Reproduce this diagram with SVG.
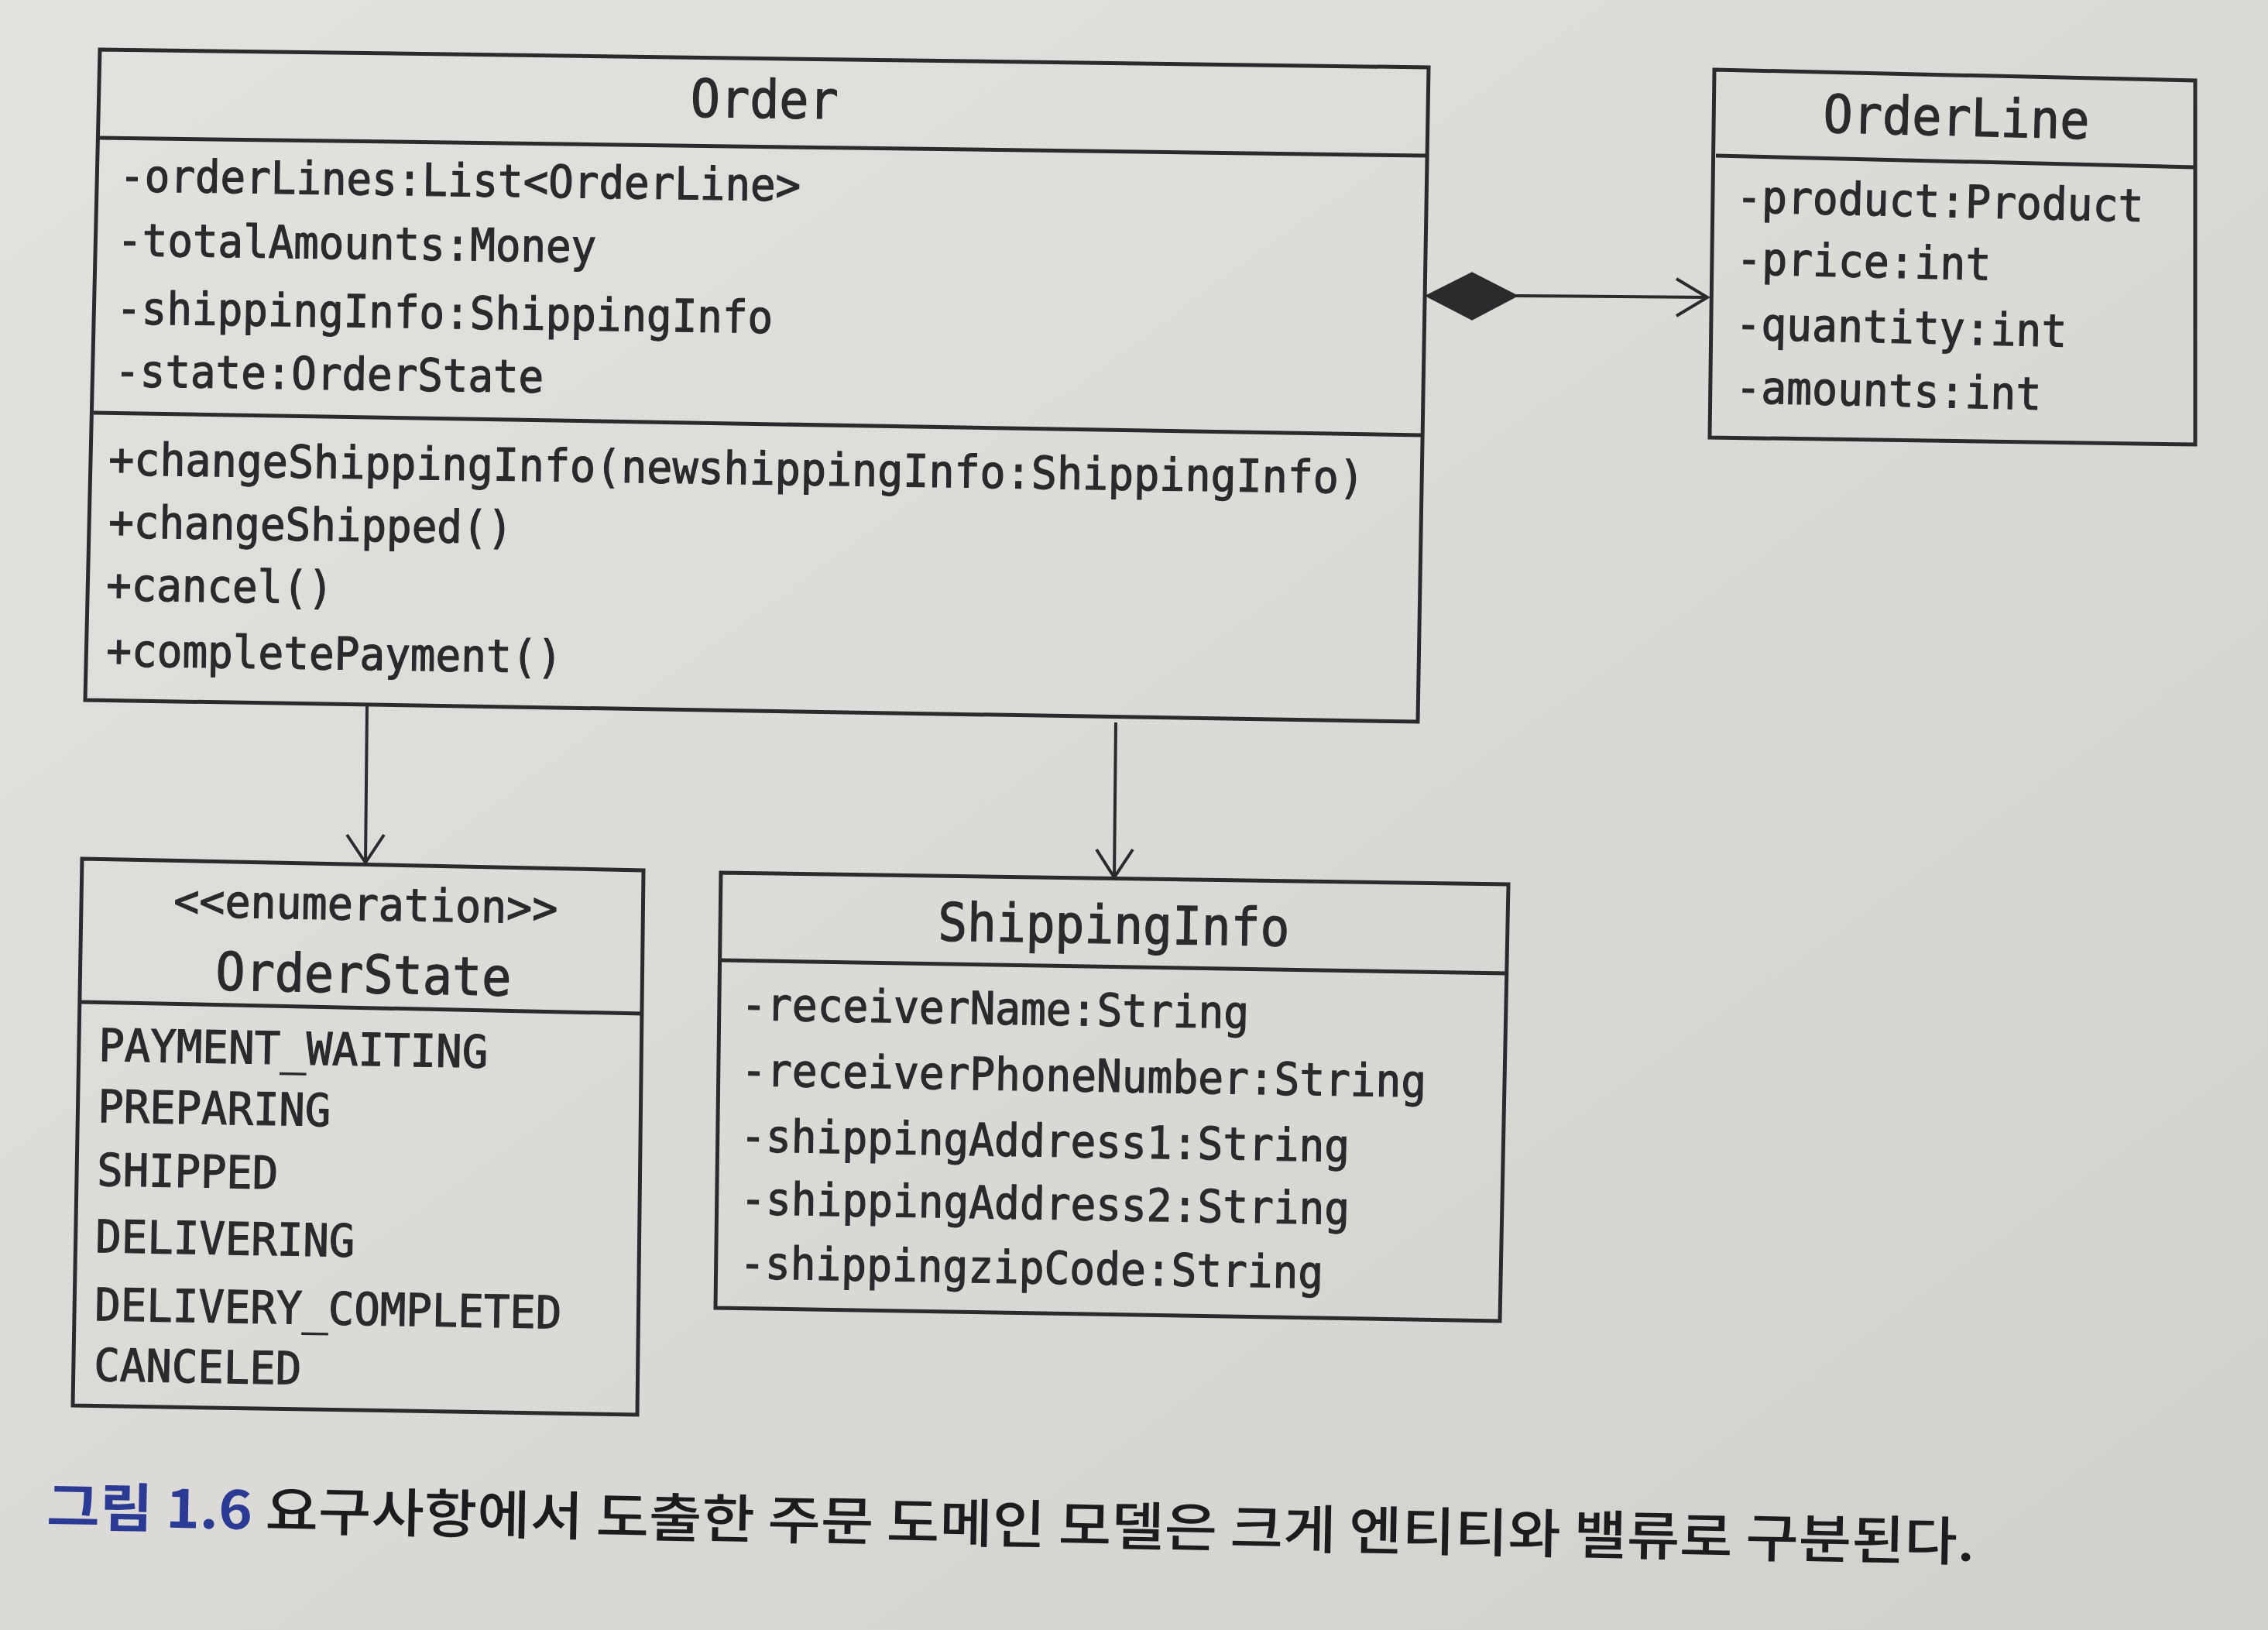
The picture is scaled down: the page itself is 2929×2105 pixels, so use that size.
<svg xmlns="http://www.w3.org/2000/svg" width="2929" height="2105" viewBox="0 0 2929 2105">
<defs>
<linearGradient id="bg" x1="0" y1="0" x2="1" y2="1">
<stop offset="0" stop-color="#e4e2df"/>
<stop offset="0.5" stop-color="#dcdad7"/>
<stop offset="1" stop-color="#d2d0cd"/>
</linearGradient>
<style>
.box{fill:none;stroke:#2b2b2d;stroke-width:5;stroke-linejoin:miter}
.div{stroke:#2b2b2d;stroke-width:5;fill:none}
.t{font-family:"DejaVu Sans Mono","Liberation Mono",monospace;font-size:58px;fill:#2a2a2c;stroke:#2a2a2c;stroke-width:1.2px}
.ttl{font-family:"DejaVu Sans Mono","Liberation Mono",monospace;font-size:68px;fill:#2a2a2c;stroke:#2a2a2c;stroke-width:1.2px;text-anchor:middle}
.con{stroke:#2b2b2d;stroke-width:4;fill:none}
.cap{font-family:"Noto Sans CJK KR","Noto Sans",sans-serif;font-size:68px;fill:#1c1c1e;font-weight:500}
</style>
</defs>
<rect x="0" y="0" width="2929" height="2105" fill="url(#bg)"/>

<g id="connectors">
<polygon points="1843,382 1901,353 1958,382 1901,412" fill="#2b2b2d" stroke="#2b2b2d" stroke-width="3"/>
<line class="con" x1="1958" y1="382" x2="2205" y2="384"/>
<polyline class="con" points="2165,360 2205,384 2165,408"/>
<line class="con" x1="474" y1="912" x2="472" y2="1114"/>
<polyline class="con" points="448,1078 472,1114 496,1078"/>
<line class="con" x1="1441" y1="933" x2="1439" y2="1133"/>
<polyline class="con" points="1416,1097 1439,1133 1463,1097"/>
</g>

<g id="order">
<polygon class="box" points="129,64 1845,87 1831,932 110,904"/>
<line class="div" x1="128" y1="178" x2="1843" y2="201"/>
<line class="div" x1="121" y1="533" x2="1837" y2="562"/>
<text class="ttl" x="987" y="152" textLength="191" lengthAdjust="spacingAndGlyphs" transform="rotate(0.8 987 152)">Order</text>
<text class="t" x="154" y="247" textLength="880" lengthAdjust="spacingAndGlyphs" transform="rotate(0.8 154 247)">-orderLines:List&lt;OrderLine&gt;</text>
<text class="t" x="151" y="330" textLength="619" lengthAdjust="spacingAndGlyphs" transform="rotate(0.8 151 330)">-totalAmounts:Money</text>
<text class="t" x="150" y="418" textLength="848" lengthAdjust="spacingAndGlyphs" transform="rotate(0.8 150 418)">-shippingInfo:ShippingInfo</text>
<text class="t" x="148" y="499" textLength="554" lengthAdjust="spacingAndGlyphs" transform="rotate(0.8 148 499)">-state:OrderState</text>
<text class="t" x="140" y="613" textLength="1622" lengthAdjust="spacingAndGlyphs" transform="rotate(0.85 140 613)">+changeShippingInfo(newshippingInfo:ShippingInfo)</text>
<text class="t" x="140" y="694" textLength="522" lengthAdjust="spacingAndGlyphs" transform="rotate(0.85 140 694)">+changeShipped()</text>
<text class="t" x="137" y="775" textLength="293" lengthAdjust="spacingAndGlyphs" transform="rotate(0.85 137 775)">+cancel()</text>
<text class="t" x="137" y="860" textLength="589" lengthAdjust="spacingAndGlyphs" transform="rotate(0.85 137 860)">+completePayment()</text>
</g>

<g id="orderline">
<polygon class="box" points="2214,90 2835,104 2835,574 2208,565"/>
<line class="div" x1="2216" y1="201" x2="2835" y2="216"/>
<text class="ttl" x="2526" y="175" textLength="344" lengthAdjust="spacingAndGlyphs" transform="rotate(1.4 2526 175)">OrderLine</text>
<text class="t" x="2242" y="274" textLength="526" lengthAdjust="spacingAndGlyphs" transform="rotate(1.3 2242 274)">-product:Product</text>
<text class="t" x="2242" y="354" textLength="329" lengthAdjust="spacingAndGlyphs" transform="rotate(1.3 2242 354)">-price:int</text>
<text class="t" x="2241" y="438" textLength="428" lengthAdjust="spacingAndGlyphs" transform="rotate(1.3 2241 438)">-quantity:int</text>
<text class="t" x="2241" y="520" textLength="395" lengthAdjust="spacingAndGlyphs" transform="rotate(1.3 2241 520)">-amounts:int</text>
</g>

<g id="orderstate">
<polygon class="box" points="106,1109 831,1124 823,1827 94,1815"/>
<line class="div" x1="105" y1="1294" x2="830" y2="1309"/>
<text class="t" x="472" y="1188" text-anchor="middle" textLength="496" lengthAdjust="spacingAndGlyphs" transform="rotate(1.1 472 1188)">&lt;&lt;enumeration&gt;&gt;</text>
<text class="ttl" x="469" y="1282" textLength="382" lengthAdjust="spacingAndGlyphs" transform="rotate(1.1 469 1282)">OrderState</text>
<text class="t" x="127" y="1370" textLength="503" lengthAdjust="spacingAndGlyphs" transform="rotate(1 127 1370)">PAYMENT_WAITING</text>
<text class="t" x="126" y="1449" textLength="301" lengthAdjust="spacingAndGlyphs" transform="rotate(1 126 1449)">PREPARING</text>
<text class="t" x="125" y="1531" textLength="234" lengthAdjust="spacingAndGlyphs" transform="rotate(1 125 1531)">SHIPPED</text>
<text class="t" x="123" y="1617" textLength="335" lengthAdjust="spacingAndGlyphs" transform="rotate(1 123 1617)">DELIVERING</text>
<text class="t" x="122" y="1705" textLength="603" lengthAdjust="spacingAndGlyphs" transform="rotate(1 122 1705)">DELIVERY_COMPLETED</text>
<text class="t" x="121" y="1783" textLength="268" lengthAdjust="spacingAndGlyphs" transform="rotate(1 121 1783)">CANCELED</text>
</g>

<g id="shippinginfo">
<polygon class="box" points="931,1127 1948,1142 1937,1706 924,1689"/>
<line class="div" x1="931" y1="1240" x2="1947" y2="1257"/>
<text class="ttl" x="1438" y="1218" textLength="454" lengthAdjust="spacingAndGlyphs" transform="rotate(0.9 1438 1218)">ShippingInfo</text>
<text class="t" x="957" y="1317" textLength="656" lengthAdjust="spacingAndGlyphs" transform="rotate(0.95 957 1317)">-receiverName:String</text>
<text class="t" x="957" y="1402" textLength="885" lengthAdjust="spacingAndGlyphs" transform="rotate(0.95 957 1402)">-receiverPhoneNumber:String</text>
<text class="t" x="956" y="1487" textLength="787" lengthAdjust="spacingAndGlyphs" transform="rotate(0.95 956 1487)">-shippingAddress1:String</text>
<text class="t" x="956" y="1568" textLength="787" lengthAdjust="spacingAndGlyphs" transform="rotate(0.95 956 1568)">-shippingAddress2:String</text>
<text class="t" x="955" y="1651" textLength="754" lengthAdjust="spacingAndGlyphs" transform="rotate(0.95 955 1651)">-shippingzipCode:String</text>
</g>

<g id="caption">
<text class="cap" x="60" y="1970" transform="rotate(1.05 60 1970)" textLength="2490" lengthAdjust="spacingAndGlyphs"><tspan fill="#2b3a94" font-weight="700">그림 1.6</tspan> 요구사항에서 도출한 주문 도메인 모델은 크게 엔티티와 밸류로 구분된다.</text>
</g>
</svg>
